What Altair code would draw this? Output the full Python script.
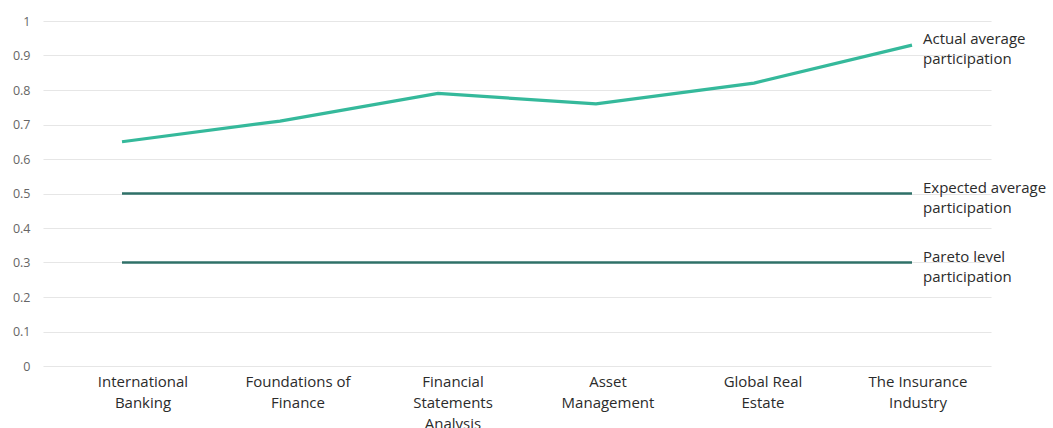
import altair as alt
import pandas as pd

categories = ["International Banking", "Foundations of Finance", "Financial Statements Analysis",
              "Asset Management", "Global Real Estate", "The Insurance Industry"]
label_lines = [["International", "Banking"], ["Foundations of", "Finance"],
               ["Financial", "Statements", "Analysis"], ["Asset", "Management"],
               ["Global Real", "Estate"], ["The Insurance", "Industry"]]
actual = [0.65, 0.71, 0.79, 0.76, 0.82, 0.93]
expected = [0.5, 0.5, 0.5, 0.5, 0.5, 0.5]
pareto = [0.3, 0.3, 0.3, 0.3, 0.3, 0.3]
series_names = ["Actual average participation", "Expected average participation", "Pareto level participation"]
series_labels = [["Actual average", "participation"], ["Expected average", "participation"], ["Pareto level", "participation"]]
series_colors = ["#35b99b", "#2f7168", "#2f7168"]
series_widths = [3.2, 2.6, 2.6]
y_ticks = [0, 0.1, 0.2, 0.3, 0.4, 0.5, 0.6, 0.7, 0.8, 0.9, 1]

rows = []
for name, vals in zip(series_names, [actual, expected, pareto]):
    for c, v in zip(categories, vals):
        rows.append({"series": name, "category": c, "value": v})
df = pd.DataFrame(rows)

lab_df = pd.DataFrame({
    "series": series_names,
    "category": [categories[-1]] * 3,
    "value": [actual[-1], expected[-1], pareto[-1]],
    "label": series_labels,
})
cat_df = pd.DataFrame({"category": categories, "value": [0] * len(categories)})

label_expr = " : ".join(
    f"datum.value == '{c}' ? {lines!r}" for c, lines in zip(categories, label_lines)
) + " : datum.label"

FONT = "Open Sans"

x = alt.X("category:N", sort=categories, title=None,
          scale=alt.Scale(domain=categories, paddingInner=0, paddingOuter=0), axis=None)
y = alt.Y("value:Q", title=None, scale=alt.Scale(domain=[0, 1], nice=False),
          axis=alt.Axis(values=y_ticks, format=".1~f", domain=False, ticks=False,
                        gridColor="#e6e6e6", gridWidth=1.2, labelFontSize=12.5, labelColor="#666666",
                        labelPadding=13, labelFont=FONT, labelOverlap=False))
color = alt.Color("series:N", scale=alt.Scale(domain=series_names, range=series_colors), legend=None)

layers = []
for name, w in zip(series_names, series_widths):
    layers.append(
        alt.Chart(df).transform_filter(alt.datum.series == name)
        .mark_line(strokeWidth=w, strokeCap="butt")
        .encode(x=x, y=y, color=color)
    )

text = alt.Chart(lab_df).mark_text(align="left", baseline="middle", dx=11, dy=-6,
                                   fontSize=15, color="#2b2b2b", lineHeight=20, font=FONT).encode(
    x=x, y=y, text="label"
)

main = alt.layer(*layers, text)

# category axis (labels sit on a slightly narrower band layout, as in the original)
x_axis_layer = alt.Chart(cat_df).mark_point(opacity=0).encode(
    x=alt.X("category:N", sort=categories, title=None,
            scale=alt.Scale(paddingInner=0, paddingOuter=0, range=[22, 952]),
            axis=alt.Axis(labelAngle=0, labelExpr=label_expr, domain=False, ticks=False, grid=False,
                          labelFontSize=15, labelColor="#2b2b2b", labelPadding=8,
                          labelLineHeight=21, labelBaseline="top", labelFont=FONT,
                          labelLimit=200, labelOverlap=False)),
    y=y,
)

chart = alt.layer(main, x_axis_layer).resolve_scale(x="independent").properties(
    width=948, height=345,
    background="white",
    autosize=alt.AutoSizeParams(type="none"),
    padding={"left": 43, "top": 21, "right": 62, "bottom": 62},
).configure_view(stroke=None)

chart.save("out.html", embed_options={"renderer": "svg", "actions": False})
